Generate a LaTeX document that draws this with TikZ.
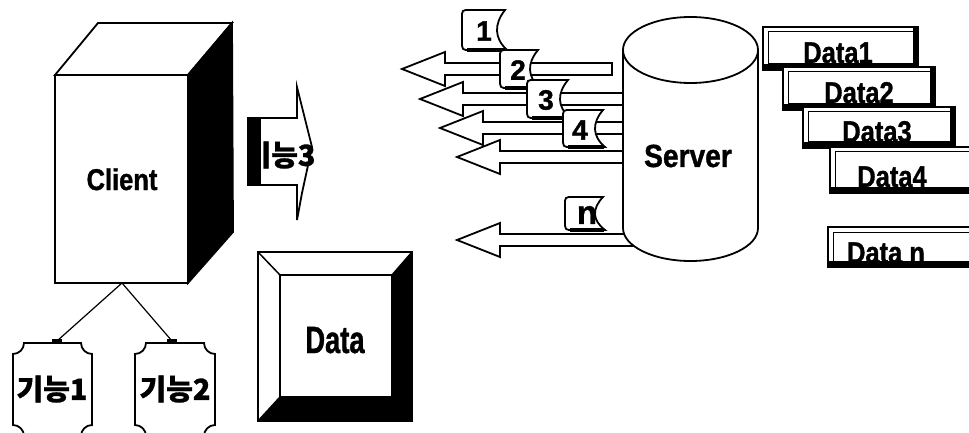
\documentclass[tikz,border=0pt]{standalone}
\usepackage{fontspec}
\setmainfont{Liberation Sans}[BoldFeatures={FakeBold=1.2}]
\newfontfamily\kr{Noto Sans CJK KR}[BoldFeatures={FakeBold=1}]
\usepackage{graphicx}
\newcommand{\nar}[2]{\scalebox{#1}[1]{#2}}
\newcommand\myplaque[4]{%
\filldraw[outl] (#1+11,#2) -- (#3-11,#2) .. controls (#3-11,#2+6) and (#3-6,#2+11) .. (#3,#2+11) -- (#3,#4-11) .. controls (#3-6,#4-11) and (#3-11,#4-6) .. (#3-11,#4) -- (#1+11,#4) .. controls (#1+11,#4-6) and (#1+6,#4-11) .. (#1,#4-11) -- (#1,#2+11) .. controls (#1+6,#2+11) and (#1+11,#2+6) .. (#1+11,#2) -- cycle;}
\newcommand\myarrow[3]{%
\filldraw[outl] (#1,#2) -- (#1+43,#2-17) -- (#1+43,#2-6) -- (#3,#2-6) -- (#3,#2+6) -- (#1+43,#2+6) -- (#1+43,#2+17) -- cycle;}
\newcommand\mytag[4]{%
\filldraw[outl] (#1+8,#2) -- (#3,#2) .. controls (#3-11,#2+0.35*#4-0.35*#2) and (#3-11,#4-0.3*#4+0.3*#2) .. (#3+2,#4) -- (#1+8,#4) .. controls (#1,#4) .. (#1,#4-9) -- (#1,#2+8) .. controls (#1,#2) .. (#1+8,#2) -- cycle;
\draw[line width=3.5pt] (#1+5,#4) -- (#3+1,#4);}
\newcommand\mydbox[4]{%
\filldraw[fill=white, draw=black, line width=2.5pt] (#1,#2) rectangle (#3,#4);
\fill (#3-5,#2) rectangle (#3,#4);
\fill (#1,#4-6) rectangle (#3,#4);
\draw[line width=1pt] (#1+5,#2+5) rectangle (#3-5,#4-6);}
\begin{document}
\begin{tikzpicture}[x=1pt,y=-1pt, line join=miter,
 outl/.style={draw=black, line width=1.8pt, fill=white},
 lab/.style={inner sep=0pt, font=\bfseries\fontsize{30}{30}\selectfont},
 krlab/.style={inner sep=0pt, font=\kr\bfseries\fontsize{29}{29}\selectfont},
 numlab/.style={inner sep=0pt, font=\bfseries\fontsize{28}{28}\selectfont},
 link/.style={draw=black, line width=1.2pt}]
\useasboundingbox (0,0) rectangle (969,433);
\fill[white] (0,0) rectangle (969,433);

% Client box
\filldraw[outl] (55,75) -- (98,23) -- (232,23) -- (188,75) -- cycle;
\filldraw[draw=black, line width=1.8pt, fill=black] (188,75) -- (232,23) -- (233,232) -- (188,283) -- cycle;
\filldraw[outl] (55,75) rectangle (188,283);
\node[lab, anchor=base] (client) at (122,190) {\nar{0.85}{Client}};
\coordinate (cb) at (122,283);

% function plaques
\myplaque{13}{343}{92}{436}
\myplaque{135}{343}{215}{436}
\node[krlab] (f1) at (52,389) {기능1};
\node[krlab] (f2) at (175,389) {기능2};
\coordinate (f1t) at (57,341);
\coordinate (f2t) at (172,341);
\draw[link] (cb) -- (f1t);
\draw[link] (cb) -- (f2t);
\fill (f1t) ++(-5,-2) rectangle ++(10,5);
\fill (f2t) ++(-5,-2) rectangle ++(10,5);

% function 3 arrow
\filldraw[outl] (248,118) -- (297,118) -- (297,87) -- (312,147) -- (302,193) -- (297,220) -- (297,185) -- (248,185) -- cycle;
\begin{scope}
\clip (249,100) rectangle (330,210);
\node[krlab] (f3) at (280,155) {기능3};
\end{scope}
\fill (247,117) rectangle (261,186);

% Data box
\fill[white] (258,252) rectangle (412,421);
\fill[black] (412,252) -- (412,421) -- (258,421) -- (280,397) -- (392,397) -- (392,275) -- cycle;
\draw[line width=1.8pt] (258,252) rectangle (412,421);
\draw[line width=1.5pt] (280,275) rectangle (392,397);
\draw[line width=1.5pt] (258,252) -- (280,275) (412,252) -- (392,275) (258,421) -- (280,397);
\node[lab, anchor=base] (data) at (335,353) {\nar{0.72}{\fontsize{38}{38}\selectfont Data}};

% arrows
\myarrow{402}{69}{612}
\myarrow{420}{99}{660}
\myarrow{440}{128}{660}
\myarrow{457}{157}{660}
\myarrow{457}{240}{660}

% server
\filldraw[outl] (623,50) -- (623,228) .. controls (623,246.2) and (653.2,261) .. (690.5,261) .. controls (727.8,261) and (758,246.2) .. (758,228) -- (758,50) -- cycle;
\filldraw[outl] (690.5,50) ellipse [x radius=67.5pt, y radius=33pt];
\node[lab, anchor=base] (server) at (688,167) {\nar{0.88}{\fontsize{32}{32}\selectfont Server}};

% tags
\mytag{462}{10}{505}{50}
\node[numlab] (t1) at (484,31) {1};
\mytag{500}{50}{538}{88}
\node[numlab] (t2) at (518,70) {2};
\mytag{527}{80}{568}{118}
\node[numlab] (t3) at (546,100) {3};
\mytag{563}{110}{603}{147}
\node[numlab] (t4) at (580,130) {4};
\mytag{565}{197}{603}{230}
\node[numlab, font=\bfseries\fontsize{33}{33}\selectfont] (tn) at (587,215) {n};

% data boxes
\mydbox{763}{27}{918}{70}
\node[lab, anchor=base] (d1) at (838,63) {\nar{0.85}{Data1}};
\mydbox{783}{67}{935}{110}
\node[lab, anchor=base] (d2) at (859,103) {\nar{0.85}{Data2}};
\mydbox{803}{107}{955}{148}
\node[lab, anchor=base] (d3) at (877,142) {\nar{0.85}{Data3}};
\mydbox{830}{147}{975}{193}
\node[lab, anchor=base] (d4) at (892,187) {\nar{0.85}{Data4}};
\mydbox{828}{227}{975}{267}
\node[lab, anchor=base] (dn) at (886,263) {\nar{0.85}{Data n}};
\end{tikzpicture}
\end{document}
